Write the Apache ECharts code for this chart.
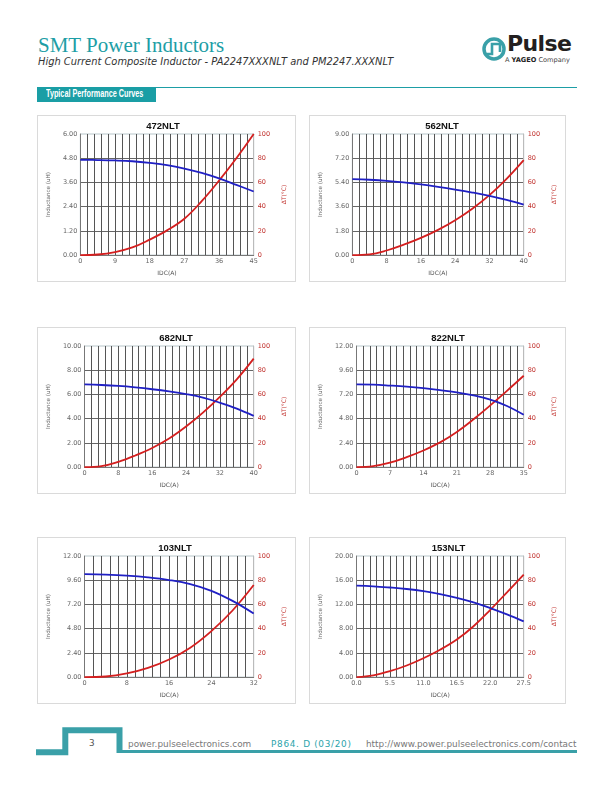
<!DOCTYPE html>
<html>
<head>
<meta charset="utf-8">
<script src="https://cdn.jsdelivr.net/npm/echarts@6.0.0/dist/echarts.min.js"></script>
<style>
  html, body { margin: 0; padding: 0; background: #fff; }
  body { width: 612px; height: 792px; position: relative; overflow: hidden; font-family: 'DejaVu Sans', sans-serif; }
  .abs { position: absolute; white-space: nowrap; }
  .panel { position: absolute; border: 1px solid #dadada; box-sizing: border-box; background: #fff; }
</style>
</head>
<body>

<!-- header -->
<div class="abs" style="left:38px;top:33px;font:21px 'Liberation Serif',serif;color:#1d9ea6;">SMT Power Inductors</div>
<div class="abs" style="left:38px;top:56px;font:italic 9.9px 'DejaVu Sans',sans-serif;color:#333;">High Current Composite Inductor - PA2247XXXNLT and PM2247.XXXNLT</div>

<svg class="abs" style="left:481px;top:35px" width="28" height="28" viewBox="0 0 28 28">
  <circle cx="13" cy="14" r="10" fill="none" stroke="#3aa0a8" stroke-width="3.5"/>
  <path d="M6 19 L11 19 L11 9 L19 9 L19 17" fill="none" stroke="#3aa0a8" stroke-width="2.6"/>
</svg>
<div class="abs" style="left:507px;top:31px;font:bold 22px 'DejaVu Sans',sans-serif;color:#231f20;letter-spacing:-0.6px;">Pulse</div>
<div class="abs" style="left:505px;top:56px;font:6.6px 'DejaVu Sans',sans-serif;color:#444;">A <b style="color:#222">YAGEO</b> Company</div>

<div class="abs" style="left:37px;top:87px;width:540px;height:1px;background:#1d9ea6;"></div>
<div class="abs" style="left:37px;top:87px;width:119px;height:15px;background:#1a9ea5;"></div>
<div class="abs" style="left:46px;top:87px;height:15px;line-height:15px;color:#fff;font:bold 10.5px 'Liberation Sans',sans-serif;transform:scaleX(0.69);transform-origin:0 0;">Typical Performance Curves</div>

<!-- chart panels -->
<div id="c0" class="panel" style="left:37px;top:115px;width:259px;height:167px;"></div>
<div id="c1" class="panel" style="left:309px;top:115px;width:257px;height:167px;"></div>
<div id="c2" class="panel" style="left:37px;top:327px;width:259px;height:167px;"></div>
<div id="c3" class="panel" style="left:309px;top:327px;width:257px;height:167px;"></div>
<div id="c4" class="panel" style="left:37px;top:537px;width:259px;height:167px;"></div>
<div id="c5" class="panel" style="left:309px;top:537px;width:257px;height:167px;"></div>

<!-- footer -->
<svg class="abs" style="left:0;top:720px" width="612" height="50">
  <path d="M36 32.3 H65.3 V10.3 H119.5 V33" fill="none" stroke="#3aa0a8" stroke-width="6"/>
  <path d="M117 30 H577 V33 H117 Z" fill="#3aa0a8" stroke="none"/>
</svg>
<div class="abs" style="left:89px;top:738px;font:8.8px 'DejaVu Sans',sans-serif;color:#555;">3</div>
<div class="abs" style="left:128px;top:739px;font:8.9px 'DejaVu Sans',sans-serif;color:#777;">power.pulseelectronics.com</div>
<div class="abs" style="left:271px;top:739px;font:8.9px 'DejaVu Sans',sans-serif;color:#2aa3ab;letter-spacing:0.7px;">P864. D (03/20)</div>
<div class="abs" style="left:366px;top:739px;font:8.9px 'DejaVu Sans',sans-serif;color:#777;">http://www.power.pulseelectronics.com/contact</div>

<script>
// part names and axis ranges
const partNames = ['472NLT', '562NLT', '682NLT', '822NLT', '103NLT', '153NLT'];
const idcMax = [45, 40, 40, 35, 32, 27.5];
const idcLabelStep = [9, 8, 8, 7, 8, 5.5];
const indMax = [6, 9, 10, 12, 12, 20];
const dtMax = 100;
const dtStep = 20;

// curves: IDC (A), inductance (uH), temperature rise (C)
const idc472 = [0, 4.5, 9, 13.5, 18, 22.5, 27, 31.5, 36, 40.5, 45];
const ind472 = [4.72, 4.71, 4.69, 4.65, 4.57, 4.46, 4.29, 4.07, 3.80, 3.48, 3.15];
const dt472 = [0, 0.5, 2.5, 6.3, 12.8, 20.4, 30, 44.5, 61.5, 80, 100];

const idc562 = [0, 4, 8, 12, 16, 20, 24, 28, 32, 36, 40];
const ind562 = [5.65, 5.60, 5.52, 5.40, 5.25, 5.07, 4.87, 4.65, 4.40, 4.10, 3.75];
const dt562 = [0, 0.6, 3.8, 8.6, 14.2, 20.8, 28.8, 38.3, 49.5, 63, 78.5];

const idc682 = [0, 4, 8, 12, 16, 20, 24, 28, 32, 36, 40];
const ind682 = [6.83, 6.78, 6.70, 6.58, 6.43, 6.25, 6.03, 5.74, 5.32, 4.83, 4.23];
const dt682 = [0, 0.8, 4.4, 9.6, 15.8, 23.6, 33.5, 45, 58, 72.5, 89.6];

const idc822 = [0, 3.5, 7, 10.5, 14, 17.5, 21, 24.5, 28, 31.5, 35];
const ind822 = [8.20, 8.17, 8.08, 7.97, 7.82, 7.63, 7.40, 7.10, 6.68, 6.05, 5.18];
const dt822 = [0, 0.8, 3.6, 8.2, 13.7, 20.4, 29, 39.5, 51, 63, 75.4];

const idc103 = [0, 4, 8, 12, 16, 20, 24, 28, 32];
const ind103 = [10.2, 10.15, 10.05, 9.88, 9.62, 9.22, 8.55, 7.55, 6.3];
const dt103 = [0, 0.5, 3, 7.6, 14.5, 24.3, 38, 55, 76];

const idc153 = [0, 2.75, 5.5, 8.25, 11, 13.75, 16.5, 19.25, 22, 24.75, 27.5];
const ind153 = [15.1, 15.0, 14.8, 14.55, 14.2, 13.7, 13.1, 12.35, 11.4, 10.35, 9.2];
const dt153 = [0, 1.5, 4.9, 9.6, 15.6, 22.6, 31, 42, 55.5, 70, 84.7];

const curves = [
  [idc472, ind472, dt472],
  [idc562, ind562, dt562],
  [idc682, ind682, dt682],
  [idc822, ind822, dt822],
  [idc103, ind103, dt103],
  [idc153, ind153, dt153]
];

// layout of each panel (plot offsets inside the bordered box)
const gridLeft = [32, 31.7, 35.7, 35.3, 35.7, 35.3];
const gridRight = [30.7, 28.7, 30.7, 28.7, 30.7, 28.7];
const titleX = [125, 132, 138, 138, 137, 138.5];

const labelFont = 'DejaVu Sans';
const gridColor = '#555';

function pairs(xs, ys) {
  return xs.map((x, i) => [x, ys[i]]);
}

function buildOption(i) {
  const [idc, ind, dt] = curves[i];
  const xDec = idcLabelStep[i] % 1 === 0 ? 0 : 1;
  return {
    animation: false,
    title: {
      text: partNames[i],
      left: titleX[i],
      top: 5,
      padding: 0,
      textAlign: 'center',
      textStyle: { fontFamily: 'Liberation Sans', fontSize: 9.5, fontWeight: 'bold', color: '#111' }
    },
    grid: {
      left: gridLeft[i], right: gridRight[i], top: 18, height: 122,
      show: true, borderColor: '#b8c6ca', borderWidth: 1, backgroundColor: '#fff'
    },
    xAxis: {
      type: 'value', min: 0, max: idcMax[i], interval: idcLabelStep[i],
      name: 'IDC(A)', nameLocation: 'middle', nameGap: 12,
      nameTextStyle: { fontFamily: labelFont, fontSize: 6, color: '#555' },
      axisLine: { show: true, lineStyle: { color: '#777' } },
      axisTick: { show: false },
      axisLabel: { margin: 3, fontFamily: labelFont, fontSize: 6.5, color: '#666',
        formatter: v => v.toFixed(xDec) },
      splitLine: { show: true, showMinLine: false, showMaxLine: false, lineStyle: { color: gridColor, width: 1 } },
      minorTick: { show: false, splitNumber: 5 },
      minorSplitLine: { show: true, lineStyle: { color: gridColor, width: 1 } }
    },
    yAxis: [
      {
        type: 'value', min: 0, max: indMax[i], interval: indMax[i] / 5,
        name: 'Inductance (uH)', nameLocation: 'middle', nameGap: 20,
        nameTextStyle: { fontFamily: labelFont, fontSize: 5.6, color: '#666' },
        axisLine: { show: true, lineStyle: { color: '#777' } },
        axisTick: { show: false },
        axisLabel: { margin: 3, fontFamily: labelFont, fontSize: 6.5, color: '#666',
          formatter: v => v.toFixed(2) },
        splitLine: { show: true, showMinLine: false, showMaxLine: false, lineStyle: { color: '#666', width: 1 } }
      },
      {
        type: 'value', position: 'right', min: 0, max: dtMax, interval: dtStep,
        name: 'ΔT(°C)', nameLocation: 'middle', nameGap: 16,
        nameTextStyle: { fontFamily: labelFont, fontSize: 6, color: '#c0302c' },
        axisLine: { show: true, lineStyle: { color: '#bbb' } },
        axisTick: { show: false },
        axisLabel: { margin: 4, fontFamily: labelFont, fontSize: 6.5, color: '#c0302c' },
        splitLine: { show: false }
      }
    ],
    series: [
      {
        type: 'line', yAxisIndex: 1, data: pairs(idc, dt),
        smooth: 0.4, showSymbol: false,
        lineStyle: { color: '#d41f1f', width: 1.8 }
      },
      {
        type: 'line', yAxisIndex: 0, data: pairs(idc, ind),
        smooth: 0.4, showSymbol: false,
        lineStyle: { color: '#2020c4', width: 1.8 }
      }
    ]
  };
}

partNames.forEach((name, i) => {
  const chart = echarts.init(document.getElementById('c' + i), null, { renderer: 'canvas' });
  chart.setOption(buildOption(i));
});
</script>
</body>
</html>
